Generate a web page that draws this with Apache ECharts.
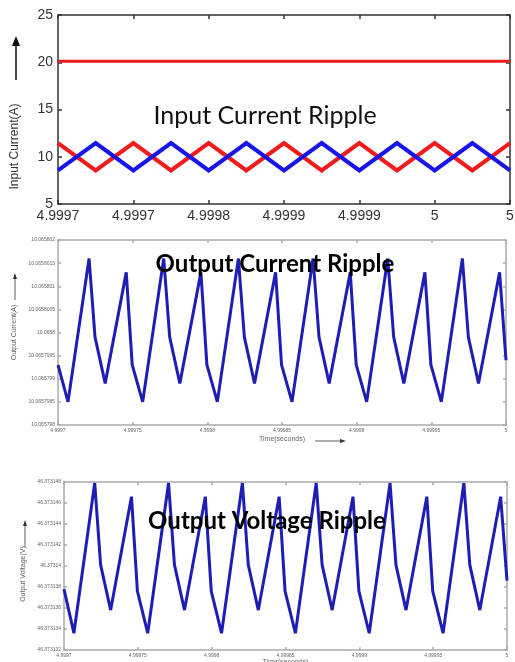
<!DOCTYPE html>
<html><head><meta charset="utf-8">
<script src="https://cdn.jsdelivr.net/npm/echarts@6/dist/echarts.min.js"></script>
<style>html,body{margin:0;padding:0;background:#fff}#c{width:515px;height:662px}</style>
</head><body><div id="c"></div>
<script>
// ---------- Panel 1: input current ripple ----------
const inputTimeTickLabels = ['4.9997','4.9997','4.9998','4.9999','4.9999','5','5'];
const inputTimeUs   = [0,25,50,75,100,125,150,175,200,225,250,275,300];   // µs after 4.9997 s
const inputPhaseA   = [11.45,8.55,11.45,8.55,11.45,8.55,11.45,8.55,11.45,8.55,11.45,8.55,11.45];
const inputPhaseB   = [8.55,11.45,8.55,11.45,8.55,11.45,8.55,11.45,8.55,11.45,8.55,11.45,8.55];
const inputTotalTimeUs = [0,300];
const inputTotal       = [20.1,20.1];

// ---------- Panels 2 & 3: output ripple ----------
const timeTickLabels = ['4.9997','4.99975','4.9998','4.99985','4.9999','4.99995','5'];
const rippleTimeUs = [0,
  6.7,20.8,24.8,31.6,45.7,49.7,
  56.7,70.8,74.8,81.6,95.7,99.7,
  106.7,120.8,124.8,131.6,145.7,149.7,
  156.7,170.8,174.8,181.6,195.7,199.7,
  206.7,220.8,224.8,231.6,245.7,249.7,
  256.7,270.8,274.8,281.6,295.7,300];
const outputCurrent = [10.0657993,
  10.0657985,10.0658016,10.0657999,10.0657989,10.0658013,10.0657993,
  10.0657985,10.0658016,10.0657999,10.0657989,10.0658013,10.0657993,
  10.0657985,10.0658016,10.0657999,10.0657989,10.0658013,10.0657993,
  10.0657985,10.0658016,10.0657999,10.0657989,10.0658013,10.0657993,
  10.0657985,10.0658016,10.0657999,10.0657989,10.0658013,10.0657993,
  10.0657985,10.0658016,10.0657999,10.0657989,10.0658013,10.0657994];
const outputCurrentTickLabels = ['10.065798','10.0657985','10.065799','10.0657995','10.0658','10.0658005','10.065801','10.0658015','10.065802'];
const outputVoltage = [46.3731378,
  46.3731336,46.3731479,46.3731401,46.3731358,46.3731466,46.3731376,
  46.3731336,46.3731479,46.3731401,46.3731358,46.3731466,46.3731376,
  46.3731336,46.3731479,46.3731401,46.3731358,46.3731466,46.3731376,
  46.3731336,46.3731479,46.3731401,46.3731358,46.3731466,46.3731376,
  46.3731336,46.3731479,46.3731401,46.3731358,46.3731466,46.3731376,
  46.3731336,46.3731479,46.3731401,46.3731358,46.3731466,46.3731386];
const outputVoltageTickLabels = ['46.373132','46.373134','46.373136','46.373138','46.37314','46.373142','46.373144','46.373146','46.373148'];

const curBase = 10.065798, curStep = 0.0000005;
const voltBase = 46.373132, voltStep = 0.000002;

const pairs = (xs, ys, f) => xs.map((x, i) => [x, f ? f(ys[i]) : ys[i]]);

const chart = echarts.init(document.getElementById('c'), null, {renderer: 'canvas'});
const tickFont = 'Liberation Sans';

function xAx(grid, top, labels, o) {
  return {
    type: 'value', gridIndex: grid, position: top ? 'top' : 'bottom',
    min: 0, max: 300, interval: 50,
    axisLine: {show: true, onZero: false, lineStyle: {color: o.lc, width: o.lw}},
    axisTick: {show: true, inside: true, length: o.tl, lineStyle: {color: o.lc, width: o.lw}},
    axisLabel: {show: !top, margin: o.lm, color: o.fc, fontSize: o.fs, fontFamily: tickFont,
      formatter: (v) => labels[Math.round(v / 50)]},
    splitLine: {show: false},
    name: top ? '' : o.name, nameLocation: 'middle', nameGap: o.ng,
    nameTextStyle: {color: o.fc, fontSize: o.nfs, fontFamily: tickFont}
  };
}
function yAx(grid, right, o) {
  return {
    type: 'value', gridIndex: grid, position: right ? 'right' : 'left',
    min: o.min, max: o.max, interval: o.interval,
    axisLine: {show: true, onZero: false, lineStyle: {color: o.lc, width: o.lw}},
    axisTick: {show: true, inside: true, length: o.tl, lineStyle: {color: o.lc, width: o.lw}},
    axisLabel: {show: !right, margin: o.lm, color: o.fc, fontSize: o.fs, fontFamily: tickFont,
      formatter: o.fmt},
    splitLine: {show: false},
    name: right ? '' : o.name, nameLocation: 'middle', nameGap: o.ng, nameRotate: 90,
    nameTextStyle: {color: o.fc, fontSize: o.nfs, fontFamily: tickFont, padding: o.pad || 0}
  };
}

const p1 = {lc: '#333', lw: 1.5, tl: 4, lm: 5, fc: '#333', fs: 14, nfs: 12};
const p2 = {lc: '#aaa', lw: 1.5, tl: 3, lm: 3, fc: '#666', fs: 5, nfs: 7};

const option = {
  animation: false,
  backgroundColor: '#fff',
  grid: [
    {left: 58, top: 15, width: 452, height: 189, show: false, outerBoundsMode: 'none', containLabel: false},
    {left: 58, top: 240, width: 448, height: 185, show: false, outerBoundsMode: 'none', containLabel: false},
    {left: 64, top: 482, width: 443, height: 168, show: false, outerBoundsMode: 'none', containLabel: false}
  ],
  xAxis: [
    xAx(0, false, inputTimeTickLabels, Object.assign({}, p1, {name: '', ng: 20})),
    xAx(0, true, inputTimeTickLabels, p1),
    xAx(1, false, timeTickLabels, Object.assign({}, p2, {name: 'Time(seconds)', ng: 11})),
    xAx(1, true, timeTickLabels, p2),
    xAx(2, false, timeTickLabels, Object.assign({}, p2, {name: 'Time(seconds)', ng: 9})),
    xAx(2, true, timeTickLabels, p2)
  ],
  yAxis: [
    yAx(0, false, Object.assign({}, p1, {min: 5, max: 25, interval: 5, name: 'Input Current(A)', ng: 37, pad: [0, 74, 0, 0]})),
    yAx(0, true, Object.assign({}, p1, {min: 5, max: 25, interval: 5})),
    yAx(1, false, Object.assign({}, p2, {min: 0, max: 8, interval: 1, name: 'Output Current(A)', ng: 39,
      fmt: (v) => outputCurrentTickLabels[Math.round(v)]})),
    yAx(1, true, Object.assign({}, p2, {min: 0, max: 8, interval: 1})),
    yAx(2, false, Object.assign({}, p2, {min: 0, max: 8, interval: 1, name: 'Output Voltage(V)', ng: 35, pad: [0, 16, 0, 0],
      fmt: (v) => outputVoltageTickLabels[Math.round(v)]})),
    yAx(2, true, Object.assign({}, p2, {min: 0, max: 8, interval: 1}))
  ],
  series: [
    {type: 'line', xAxisIndex: 0, yAxisIndex: 0, data: pairs(inputTotalTimeUs, inputTotal), showSymbol: false,
      lineStyle: {color: '#f01c1c', width: 3}},
    {type: 'line', xAxisIndex: 0, yAxisIndex: 0, data: pairs(inputTimeUs, inputPhaseA), showSymbol: false,
      lineStyle: {color: '#f01c1c', width: 4, join: 'miter'}},
    {type: 'line', xAxisIndex: 0, yAxisIndex: 0, data: pairs(inputTimeUs, inputPhaseB), showSymbol: false,
      lineStyle: {color: '#1616e8', width: 4, join: 'miter'}},
    {type: 'line', xAxisIndex: 2, yAxisIndex: 2, showSymbol: false,
      data: pairs(rippleTimeUs, outputCurrent, (v) => (v - curBase) / curStep),
      lineStyle: {color: '#1e1eb4', width: 3}},
    {type: 'line', xAxisIndex: 4, yAxisIndex: 4, showSymbol: false,
      data: pairs(rippleTimeUs, outputVoltage, (v) => (v - voltBase) / voltStep),
      lineStyle: {color: '#1e1eb4', width: 3}}
  ],
  graphic: [
    {type: 'text', x: 265, y: 116, z: 100, style: {text: 'Input Current Ripple', font: '25px Lato', fill: '#111', textAlign: 'center', textVerticalAlign: 'middle'}},
    {type: 'text', x: 275, y: 264, z: 100, style: {text: 'Output Current Ripple', font: 'bold 24px Lato', fill: '#000', textAlign: 'center', textVerticalAlign: 'middle'}},
    {type: 'text', x: 267, y: 521, z: 100, style: {text: 'Output Voltage Ripple', font: 'bold 24px Lato', fill: '#000', textAlign: 'center', textVerticalAlign: 'middle'}},
    // arrows beside axis titles
    {type: 'polyline', shape: {points: [[16, 80], [16, 44]]}, style: {stroke: '#111', lineWidth: 1.5}},
    {type: 'polygon', shape: {points: [[16, 36], [12, 46], [20, 46]]}, style: {fill: '#111'}},
    {type: 'polyline', shape: {points: [[15, 300], [15, 278]]}, style: {stroke: '#333', lineWidth: 0.8}},
    {type: 'polygon', shape: {points: [[15, 273], [13, 279], [17, 279]]}, style: {fill: '#333'}},
    {type: 'polyline', shape: {points: [[25, 547], [25, 526]]}, style: {stroke: '#333', lineWidth: 0.8}},
    {type: 'polygon', shape: {points: [[25, 520], [23, 526], [27, 526]]}, style: {fill: '#333'}},
    {type: 'polyline', shape: {points: [[315, 441], [340, 441]]}, style: {stroke: '#333', lineWidth: 0.8}},
    {type: 'polygon', shape: {points: [[346, 441], [340, 439], [340, 443]]}, style: {fill: '#333'}}
  ]
};
chart.setOption(option);
</script></body></html>
